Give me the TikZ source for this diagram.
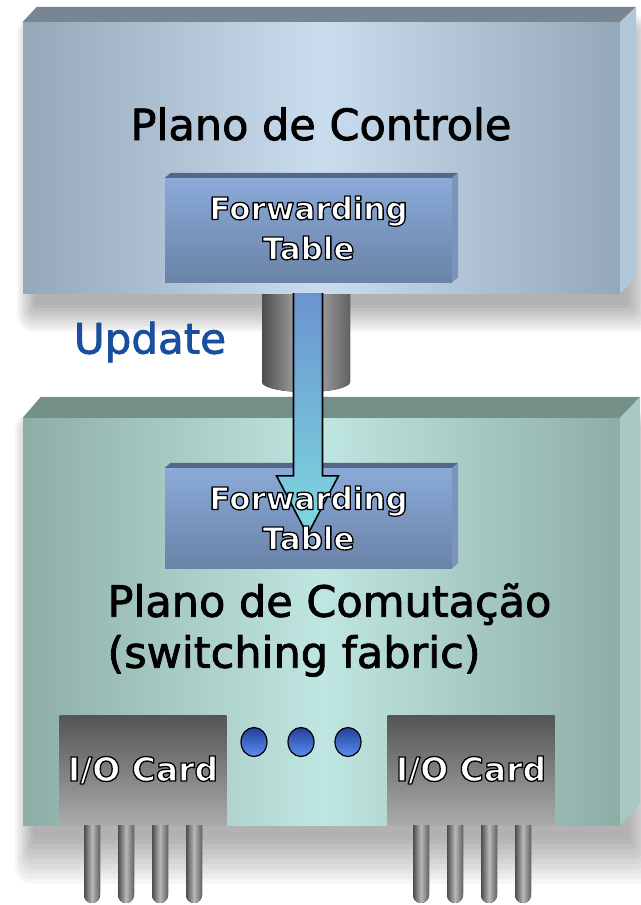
\documentclass[tikz,border=0pt]{standalone}
\usepackage{fontspec}
\setmainfont{DejaVu Sans}
\usepackage{xcolor}
\usetikzlibrary{shapes.geometric, positioning, calc}

\definecolor{ctrlEdge}{HTML}{95A8B9}
\definecolor{ctrlMid}{HTML}{C9DDEF}
\definecolor{ctrlTop}{HTML}{788593}
\definecolor{ctrlSide}{HTML}{B2C6DA}
\definecolor{fabEdge}{HTML}{8DAEA6}
\definecolor{fabMid}{HTML}{C0E6E1}
\definecolor{fabTop}{HTML}{758F89}
\definecolor{fabSide}{HTML}{A9C8C1}
\definecolor{tabTop}{HTML}{8AAAD8}
\definecolor{tabBot}{HTML}{6A83A8}
\definecolor{tabBevel}{HTML}{56688A}
\definecolor{tabSide}{HTML}{7B93BD}
\definecolor{updBlue}{HTML}{1A4F9F}
\definecolor{arrTop}{HTML}{6A94D0}
\definecolor{arrBot}{HTML}{7ED9E0}
\definecolor{dotTop}{HTML}{22409A}
\definecolor{dotBot}{HTML}{5B8FF0}

% white text with a dark outline
\newcommand\shtxt[1]{\special{pdf:literal direct 1 1 1 rg 0 0 0 RG 1.3 w 1 j 2 Tr}#1\special{pdf:literal direct 0 Tr}}
% slightly heavier text, stroked in its own colour
\newcommand\heavy[2]{\special{pdf:literal direct #1 RG 0.8 w 1 j 2 Tr}#2\special{pdf:literal direct 0 Tr}}

\begin{document}
\begin{tikzpicture}[x=1pt, y=-1pt,
    plane/.style={rectangle, inner sep=0pt, draw=none},
    ctrlface/.style={plane, left color=ctrlEdge, right color=ctrlEdge, middle color=ctrlMid},
    fabface/.style={plane, left color=fabEdge, right color=fabEdge, middle color=fabMid},
    fwtable/.style={rectangle, inner sep=0pt, minimum width=287pt, minimum height=100pt, top color=tabTop, bottom color=tabBot},
    fwtext/.style={text=white, align=center, font=\bfseries\fontsize{31}{40}\selectfont},
    iocard/.style={rectangle, inner sep=0pt, minimum width=167pt, minimum height=110pt, top color=black!67, bottom color=black!33, text=white, font=\bfseries\fontsize{33}{40}\selectfont},
    pin/.style={left color=black!70, right color=black!62, middle color=black!28},
    iodot/.style={ellipse, draw=black, line width=1.2pt, minimum width=26pt, minimum height=29pt, inner sep=0pt, top color=dotTop, bottom color=dotBot},
    bigtext/.style={font=\fontsize{43}{51}\selectfont, text=black},
    shadowbox/.style={black, opacity=0.035},
    line/.style={draw=black, line width=1.6pt, line join=miter, top color=arrTop, bottom color=arrBot}]

    \useasboundingbox (0,0) rectangle (640,905);

    % soft shadows
    \coordinate (ctrlnw) at (23,22);
    \coordinate (ctrlse) at (620,293);
    \coordinate (fabnw) at (23,418);
    \coordinate (fabse) at (620,825);
    \foreach \k in {0,...,9} {
        \fill[shadowbox, rounded corners=2*\k] ($(ctrlnw)+(12-2*\k,12-2*\k)$) rectangle ($(ctrlse)+(8+3*\k,12+3*\k)$);
        \fill[shadowbox, rounded corners=2*\k] ($(fabnw)+(10-2*\k,12-2*\k)$) rectangle ($(fabse)+(10+3*\k,14+5*\k)$);
    }

    % switching fabric
    \node[fabface, minimum width=597pt, minimum height=407pt] (fab) at ($(fabnw)!0.5!(fabse)$) {};
    \fill[fabTop] (fab.north west) -- ++(18,-21) -- ($(fab.north east)+(20,-21)$) -- (fab.north east) -- cycle;
    \fill[fabSide] (fab.north east) -- ++(20,-21) -- ($(fab.south east)+(20,-21)$) -- (fab.south east) -- cycle;

    \node[fwtable] (ft2) at (308.5,518) {};
    \fill[tabBevel] (ft2.north west) -- ++(6,-5) -- ($(ft2.north east)+(6,-5)$) -- (ft2.north east) -- cycle;
    \fill[tabSide] (ft2.north east) -- ++(6,-5) -- ($(ft2.south east)+(6,-5)$) -- (ft2.south east) -- cycle;

    % I/O cards and their pins
    \node[iocard] (io1) at (143,770) {\shtxt{I/O Card}};
    \node[iocard] (io2) at (471,770) {\shtxt{I/O Card}};
    \foreach \px in {84,118,152,186,413,447,481,515}
        \fill[pin] (\px,825) -- (\px,895) arc[start angle=180, end angle=0, radius=8] -- (\px+16,825) -- cycle;
    \foreach \dx [count=\i] in {254,301,348}
        \node[iodot] (dot\i) at (\dx,742) {};

    % cylinder between the planes
    \fill[pin] (262,290) -- (262,382) arc[start angle=180, end angle=0, x radius=44, y radius=10] -- (350,290) -- cycle;

    % control plane
    \node[ctrlface, minimum width=597pt, minimum height=271pt] (ctrl) at ($(ctrlnw)!0.5!(ctrlse)$) {};
    \fill[ctrlTop] (ctrl.north west) -- ++(14,-15) -- ($(ctrl.north east)+(16,-15)$) -- (ctrl.north east) -- cycle;
    \fill[ctrlSide] (ctrl.north east) -- ++(16,-15) -- ($(ctrl.south east)+(16,-15)$) -- (ctrl.south east) -- cycle;

    \node[fwtable, minimum height=104pt] (ft1) at (308.5,230) {};
    \fill[tabBevel] (ft1.north west) -- ++(6,-5) -- ($(ft1.north east)+(6,-5)$) -- (ft1.north east) -- cycle;
    \fill[tabSide] (ft1.north east) -- ++(6,-5) -- ($(ft1.south east)+(6,-5)$) -- (ft1.south east) -- cycle;

    % update arrow
    \coordinate (arrtop) at (ctrl.south -| ft2.north);
    \path[line] ($(arrtop)+(-15,0)$) -- ($(ft2.north)+(-15,8)$) -- ($(ft2.north)+(-32,8)$)
        -- ($(ft2.north)+(-1,67)$) -- ($(ft2.north)+(30,8)$) -- ($(ft2.north)+(14,8)$) -- ($(arrtop)+(14,0)$);

    % labels
    \node[fwtext] (ft1lbl) at ($(ft1)+(0,-2)$) {\shtxt{Forwarding}\\\shtxt{Table}};
    \node[fwtext] (ft2lbl) at (ft2) {\shtxt{Forwarding}\\\shtxt{Table}};
    \node[bigtext] (ctrllbl) at (321,124) {\heavy{0 0 0}{Plano de Controle}};
    \node[bigtext, align=left, anchor=west] (fablbl) at (104,630) {\heavy{0 0 0}{Plano de Comutação}\\\heavy{0 0 0}{(switching fabric)}};
    \node[font=\fontsize{42}{51}\selectfont, text=updBlue] (upd) at (150,342) {\heavy{0.102 0.31 0.624}{Update}};
\end{tikzpicture}
\end{document}
